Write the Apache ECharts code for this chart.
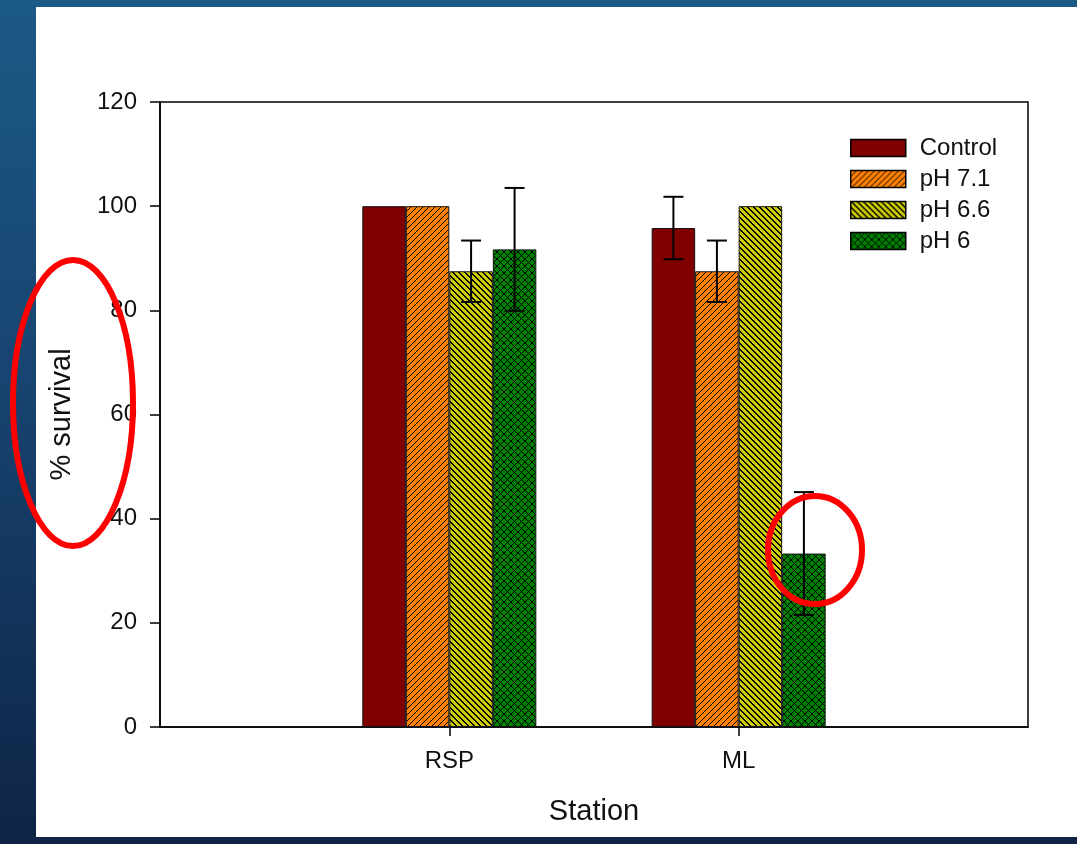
<!DOCTYPE html>
<html><head><meta charset="utf-8">
<script src="https://cdn.jsdelivr.net/npm/echarts@6/dist/echarts.min.js"></script>
<style>
html,body{margin:0;padding:0;width:1077px;height:844px;overflow:hidden;}
#bg{position:absolute;left:0;top:0;width:1077px;height:844px;background:linear-gradient(180deg,#1b5a85 0%,#174470 45%,#0f2446 100%);}
#panel{position:absolute;left:36px;top:7px;width:1041px;height:830px;background:#fff;}
#chart{position:absolute;left:0;top:0;width:1077px;height:844px;}
</style></head><body>
<div id="bg"></div><div id="panel"></div><div id="chart"></div>
<script>
// ---- data ----
const stations = ['RSP', 'ML'];
const seriesNames = ['Control', 'pH 7.1', 'pH 6.6', 'pH 6'];
const control = [100, 95.8];
const ph71 = [100, 87.5];
const ph66 = [87.5, 100];
const ph6 = [91.7, 33.3];
const controlErr = [0, 6];
const ph71Err = [0, 5.9];
const ph66Err = [5.9, 0];
const ph6Err = [11.8, 11.8];
const yMin = 0, yMax = 120, yStep = 20;

// ---- styles ----
const FONT = '"Liberation Sans", Arial, sans-serif';
const BAR_W = 43.5;
const CAP = 10;

function makePattern(bg, dirs, size, w) {
  const c = document.createElement('canvas');
  c.width = size; c.height = size;
  const g = c.getContext('2d');
  g.fillStyle = bg; g.fillRect(0, 0, size, size);
  g.fillStyle = '#000';
  for (let x = 0; x < size; x++) {
    for (let d = 0; d < w; d++) {
      const xx = (x + d) % size;
      if (dirs.indexOf('f') >= 0) g.fillRect(xx, size - 1 - x, 1, 1);
      if (dirs.indexOf('b') >= 0) g.fillRect(xx, x, 1, 1);
    }
  }
  return c;
}

const fills = [
  '#800000',
  { image: makePattern('#ff8000', 'f', 6, 1), repeat: 'repeat' },
  { image: makePattern('#cccc00', 'b', 6, 2), repeat: 'repeat' },
  { image: makePattern('#008000', 'fb', 7, 1), repeat: 'repeat' }
];

const values = [control, ph71, ph66, ph6];
const errs = [controlErr, ph71Err, ph66Err, ph6Err];

const barSeries = seriesNames.map((name, k) => ({
  name: name,
  type: 'bar',
  barWidth: BAR_W,
  barGap: '0%',
  data: stations.map((s, i) => [i + 1, values[k][i]]),
  itemStyle: { color: fills[k], borderColor: '#111', borderWidth: 1 },
  emphasis: { disabled: true },
  z: 2
}));

const errData = [];
seriesNames.forEach((n, k) => {
  stations.forEach((s, i) => { errData.push([i + 1, values[k][i], errs[k][i], k]); });
});

const errSeries = {
  type: 'custom',
  data: errData,
  encode: { x: 0, y: 1 },
  z: 5,
  silent: true,
  renderItem: function (params, api) {
    const cat = api.value(0), v = api.value(1), e = api.value(2), k = api.value(3);
    if (!e) return { type: 'group', children: [] };
    const off = (k - 1.5) * BAR_W;
    const top = api.coord([cat, v + e]);
    const bot = api.coord([cat, v - e]);
    const x = top[0] + off;
    const st = { stroke: '#000', lineWidth: 2 };
    return {
      type: 'group', children: [
        { type: 'line', shape: { x1: x, y1: top[1], x2: x, y2: bot[1] }, style: st },
        { type: 'line', shape: { x1: x - CAP, y1: top[1], x2: x + CAP, y2: top[1] }, style: st },
        { type: 'line', shape: { x1: x - CAP, y1: bot[1], x2: x + CAP, y2: bot[1] }, style: st }
      ]
    };
  }
};

const chart = echarts.init(document.getElementById('chart'), null, { renderer: 'canvas' });
chart.setOption({
  backgroundColor: 'transparent',
  animation: false,
  textStyle: { fontFamily: FONT },
  grid: { left: 160, top: 102, width: 868, height: 625, show: true, borderColor: '#000', borderWidth: 1.5, backgroundColor: 'transparent' },
  legend: {
    data: seriesNames,
    orient: 'vertical',
    left: 850, top: 136,
    padding: 0,
    itemWidth: 55, itemHeight: 17, itemGap: 7,
    icon: 'rect',
    selectedMode: false,
    itemStyle: { borderColor: '#000', borderWidth: 1.5 },
    textStyle: { fontSize: 24, lineHeight: 24, color: '#111', fontFamily: FONT, padding: [0, 0, 0, 9] }
  },
  xAxis: {
    type: 'category',
    data: [''].concat(stations, ['']),
    boundaryGap: false,
    name: 'Station',
    nameLocation: 'middle',
    nameGap: 70,
    nameTextStyle: { fontSize: 29, color: '#111', fontFamily: FONT },
    axisLine: { lineStyle: { color: '#000', width: 1.5 } },
    axisTick: { show: true, length: 9, lineStyle: { color: '#000', width: 1.5 }, interval: (i) => i === 1 || i === 2 },
    axisLabel: { fontSize: 24, color: '#111', margin: 22, interval: (i) => i === 1 || i === 2 },
    splitLine: { show: false }
  },
  yAxis: {
    type: 'value',
    min: yMin, max: yMax, interval: yStep,
    name: '% survival',
    nameLocation: 'middle',
    nameRotate: 90,
    nameGap: 84,
    nameTextStyle: { fontSize: 29, color: '#111', fontFamily: FONT },
    axisLine: { show: true, lineStyle: { color: '#000', width: 1.5 } },
    axisTick: { show: true, length: 10, lineStyle: { color: '#000', width: 1.5 } },
    axisLabel: { fontSize: 24, color: '#111', margin: 23 },
    splitLine: { show: false }
  },
  graphic: [
    { type: 'ellipse', shape: { cx: 73, cy: 403, rx: 60, ry: 143 }, style: { fill: 'none', stroke: '#ff0000', lineWidth: 6 }, z: 100 },
    { type: 'ellipse', shape: { cx: 815, cy: 550, rx: 47, ry: 54 }, style: { fill: 'none', stroke: '#ff0000', lineWidth: 6 }, z: 100 }
  ],
  series: barSeries.concat([errSeries])
});
</script>
</body></html>
